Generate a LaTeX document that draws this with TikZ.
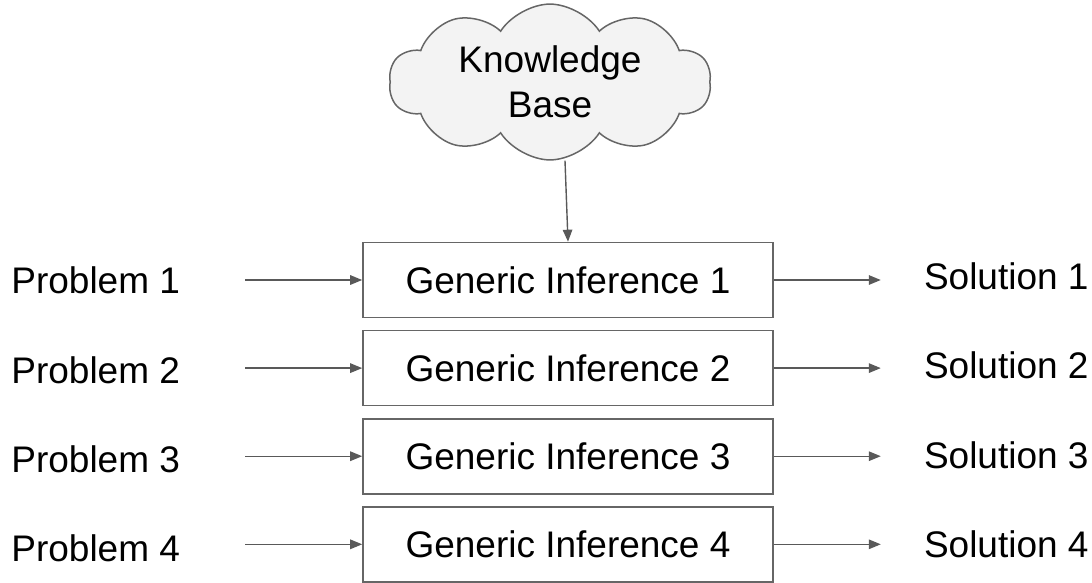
\documentclass[tikz,border=0pt]{standalone}
\usepackage{fontspec}
\setmainfont{Liberation Sans}
\usepackage{tikz}
\usetikzlibrary{positioning,arrows.meta,shapes.symbols}
\definecolor{boxstroke}{HTML}{666666}
\definecolor{arrstroke}{HTML}{595959}
\definecolor{cloudgrey}{HTML}{F3F3F3}
\tikzset{
  txt/.style     = {font=\fontsize{37}{45}\selectfont, inner sep=0pt, align=center},
  infbox/.style  = {txt, draw=boxstroke, line width=1.6pt,
                    minimum width=410pt, minimum height=75pt},
  kbcloud/.style = {txt, cloud, cloud puffs=10, cloud puff arc=115, aspect=2.2,
                    draw=boxstroke, fill=cloudgrey, line width=1.5pt,
                    minimum width=322pt, minimum height=142pt},
  arr/.style     = {-{Triangle[length=12pt,width=9.5pt]}, line width=1.4pt, draw=arrstroke},
  arrin/.style   = {arr, shorten <=65pt},
  arrout/.style  = {arr, shorten >=43pt},
}

\begin{document}
\begin{tikzpicture}[x=1pt, y=-1pt, node distance=11.5pt]
  \useasboundingbox (0,0) rectangle (1092,582);

  \node[infbox] (gi1) at (568,280) {Generic Inference 1};
  \node[infbox, below=of gi1] (gi2) {Generic Inference 2};
  \node[infbox, below=of gi2] (gi3) {Generic Inference 3};
  \node[infbox, below=of gi3] (gi4) {Generic Inference 4};

  \node[kbcloud] (kb) at (550,82) {Knowledge\\Base};

  \node[txt, left=182pt of gi1] (prob1) {Problem 1};
  \node[txt, left=182pt of gi2, yshift=-2pt] (prob2) {Problem 2};
  \node[txt, left=182pt of gi3, yshift=-3pt] (prob3) {Problem 3};
  \node[txt, left=182pt of gi4, yshift=-4pt] (prob4) {Problem 4};

  \node[txt, right=150pt of gi1, yshift=4pt] (sol1) {Solution 1};
  \node[txt, right=150pt of gi2, yshift=3pt] (sol2) {Solution 2};
  \node[txt, right=150pt of gi3, yshift=1pt] (sol3) {Solution 3};
  \node[txt, right=150pt of gi4] (sol4) {Solution 4};

  % --- knowledge base feeds the first inference ---
  \draw[arr] ([xshift=15pt]kb.south) -- (gi1.north);

  \draw[arrin]  (prob1.east |- gi1.west) -- (gi1);
  \draw[arrin]  (prob2.east |- gi2.west) -- (gi2);
  \draw[arrin]  (prob3.east |- gi3.west) -- (gi3);
  \draw[arrin]  (prob4.east |- gi4.west) -- (gi4);

  \draw[arrout] (gi1) -- (sol1.west |- gi1.east);
  \draw[arrout] (gi2) -- (sol2.west |- gi2.east);
  \draw[arrout] (gi3) -- (sol3.west |- gi3.east);
  \draw[arrout] (gi4) -- (sol4.west |- gi4.east);
\end{tikzpicture}
\end{document}
